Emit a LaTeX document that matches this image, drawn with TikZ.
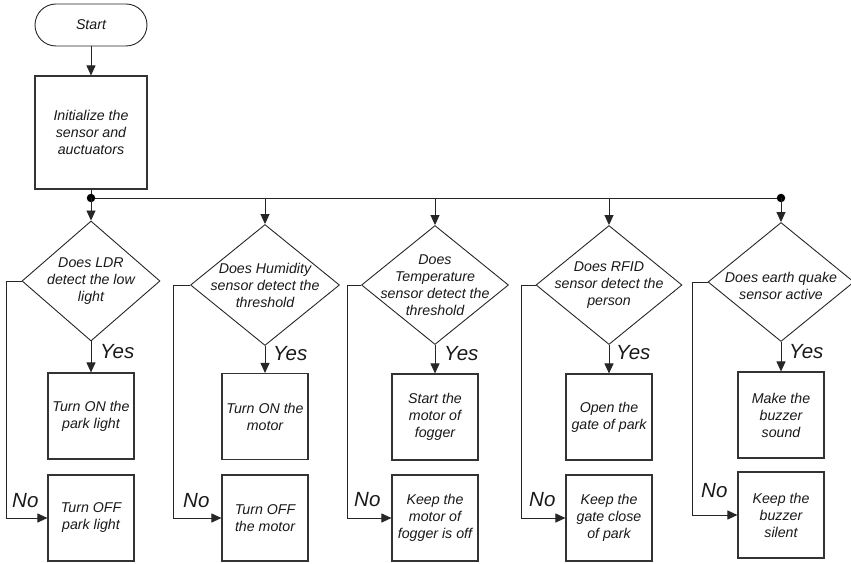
\documentclass[tikz,border=0pt]{standalone}
\usepackage{fontspec}
\setmainfont{Liberation Sans}
\usetikzlibrary{arrows.meta,shapes.geometric,calc}
\begin{document}
\begin{tikzpicture}[x=1pt,y=-1pt,
  line/.style={line width=0.9pt, draw=black!85},
  arr/.style={line, -{Triangle[length=10pt,width=9pt]}},
  txt/.style={font=\fontsize{14.2}{17}\selectfont\itshape, align=center, inner sep=0pt, text=black!90},
  proc/.style={txt, draw=black!80, line width=1.1pt, minimum width=86pt, minimum height=86pt},
  decision/.style={diamond, draw=black!85, line width=0.9pt, inner sep=0pt},
  term/.style={txt, draw=black!85, line width=0.9pt, rounded corners=21pt, minimum width=112pt, minimum height=42pt},
  big/.style={font=\fontsize{20.5}{24}\selectfont\itshape, inner sep=0pt, anchor=base west, text=black!90},
  dot/.style={circle, fill=black, inner sep=0pt, minimum size=8.5pt}
]
\useasboundingbox (0,0) rectangle (851,564);

% start and initialisation
\node[term] (start) at (91,25) {Start};
\node[proc, minimum width=112pt, minimum height=113pt] (init) at (91,132.5)
  {Initialize the\\sensor and\\auctuators};
\draw[arr] (start) -- (init);

% distribution bus
\coordinate (j1) at (91,198);
\coordinate (j2) at (265,198);
\coordinate (j3) at (435,198);
\coordinate (j4) at (609,198);
\coordinate (j5) at (781,198);
\draw[line] (init) -- (j1);
\draw[line] (j1) -- (j5);
\node[dot] (dotA) at (j1) {};
\node[dot] (dotB) at (j5) {};

% decisions
\node[decision, minimum width=138pt, minimum height=120pt] (d1) at (91,281) {};
\node[txt] (t1) at (d1) {Does LDR\\detect the low\\light};
\node[decision, minimum width=149pt, minimum height=121pt] (d2) at (265,285) {};
\node[txt] (t2) at (d2) {Does Humidity\\sensor detect the\\threshold};
\node[decision, minimum width=147pt, minimum height=119pt] (d3) at (435,285) {};
\node[txt] (t3) at (d3) {Does\\Temperature\\sensor detect the\\threshold};
\node[decision, minimum width=146pt, minimum height=119pt] (d4) at (609,285) {};
\node[txt] (t4) at (d4) {Does RFID\\sensor detect the\\person};
\node[decision, minimum width=146pt, minimum height=119pt] (d5) at (781,282) {};
\node[txt] (t5) at (781,285.5) {Does earth quake\\sensor active};

\draw[arr] (j1) -- (d1);
\draw[arr] (j2) -- (d2);
\draw[arr] (j3) -- (d3);
\draw[arr] (j4) -- (d4);
\draw[arr] (j5) -- (d5);

% actions on "Yes"
\node[proc] (y1) at (91,416) {Turn ON the\\park light};
\node[proc] (y2) at (265,416.5) {Turn ON the\\motor};
\node[proc] (y3) at (435,417) {Start the\\motor of\\fogger};
\node[proc] (y4) at (609,417) {Open the\\gate of park};
\node[proc] (y5) at (781,415) {Make the\\buzzer\\sound};

% actions on "No"
\node[proc] (n1) at (91,518) {Turn OFF\\park light};
\node[proc] (n2) at (265,518) {Turn OFF\\the motor};
\node[proc] (n3) at (435,518) {Keep the\\motor of\\fogger is off};
\node[proc] (n4) at (609,518) {Keep the\\gate close\\of park};
\node[proc] (n5) at (781,515) {Keep the\\buzzer\\silent};

% yes branches
\draw[arr] (d1) -- (y1);
\draw[arr] (d2) -- (y2);
\draw[arr] (d3) -- (y3);
\draw[arr] (d4) -- (y4);
\draw[arr] (d5) -- (y5);
\node[big] (yes1) at (100,358) {Yes};
\node[big] (yes2) at (273,360) {Yes};
\node[big] (yes3) at (444,360) {Yes};
\node[big] (yes4) at (616,359) {Yes};
\node[big] (yes5) at (789,358) {Yes};

% no branches
\draw[arr] (d1.west) -- ++(-15.5,0) |- (n1);
\draw[arr] (d2.west) -- ++(-16.5,0) |- (n2);
\draw[arr] (d3.west) -- ++(-14,0) |- (n3);
\draw[arr] (d4.west) -- ++(-14.5,0) |- (n4);
\draw[arr] (d5.west) -- ++(-15,0) |- (n5);
\node[big] (no1) at (12,507) {No};
\node[big] (no2) at (183,507) {No};
\node[big] (no3) at (354,506) {No};
\node[big] (no4) at (529,506) {No};
\node[big] (no5) at (701,497) {No};
\end{tikzpicture}
\end{document}
